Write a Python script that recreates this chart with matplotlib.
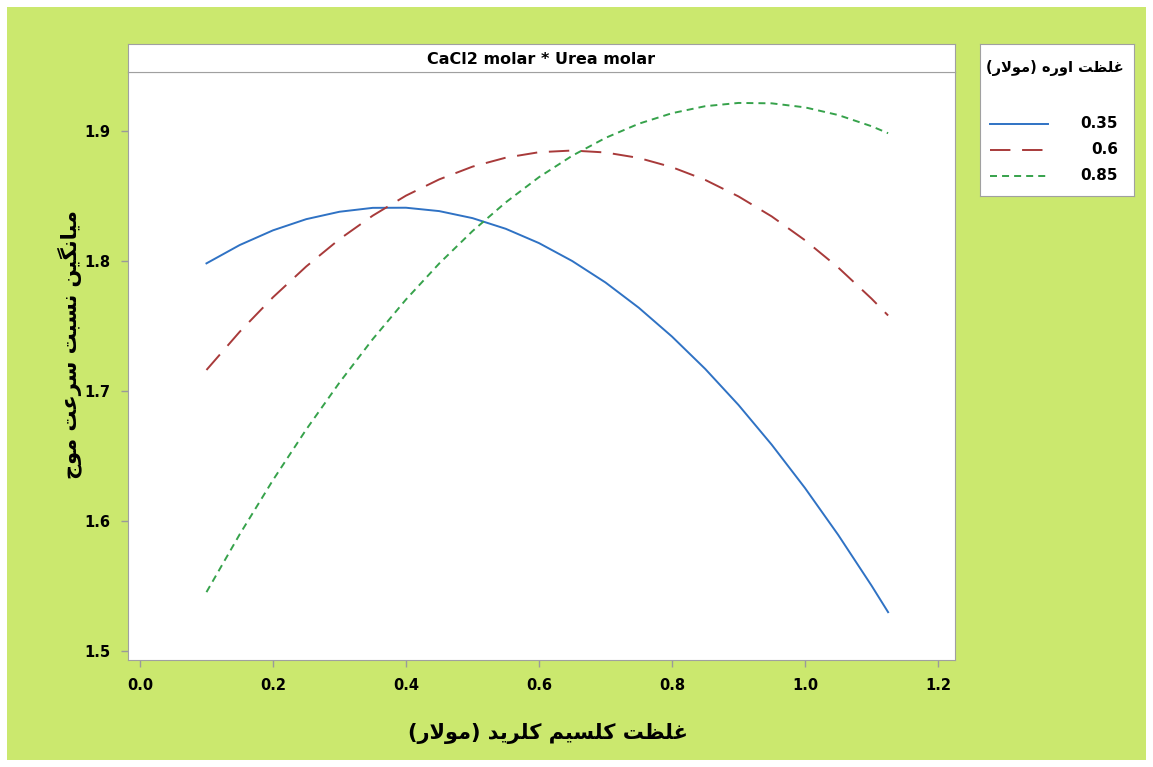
import matplotlib
matplotlib.use("Agg")
import matplotlib.pyplot as plt
from matplotlib.patches import Rectangle

# CaCl2 concentration (molar) on the x axis
cacl2 = [0.10, 0.15, 0.20, 0.25, 0.30, 0.35, 0.40, 0.45, 0.50, 0.55, 0.60,
         0.65, 0.70, 0.75, 0.80, 0.85, 0.90, 0.95, 1.00, 1.05, 1.10, 1.125]

# mean wave-speed ratio for each urea level
urea_035 = [1.7982, 1.8123, 1.8236, 1.8322, 1.8379, 1.8409, 1.8410, 1.8384,
            1.8330, 1.8248, 1.8138, 1.8000, 1.7835, 1.7641, 1.7419, 1.7170,
            1.6893, 1.6587, 1.6254, 1.5893, 1.5504, 1.5299]
urea_060 = [1.7162, 1.7456, 1.7721, 1.7958, 1.8168, 1.8349, 1.8503, 1.8628,
            1.8726, 1.8795, 1.8837, 1.8850, 1.8835, 1.8793, 1.8722, 1.8624,
            1.8497, 1.8343, 1.8160, 1.7950, 1.7711, 1.7581]
urea_085 = [1.5453, 1.5898, 1.6315, 1.6704, 1.7065, 1.7399, 1.7704, 1.7981,
            1.8230, 1.8451, 1.8645, 1.8810, 1.8947, 1.9056, 1.9137, 1.9191,
            1.9216, 1.9213, 1.9182, 1.9123, 1.9037, 1.8983]

urea_labels = ["0.35", "0.6", "0.85"]
x_ticks = [0.0, 0.2, 0.4, 0.6, 0.8, 1.0, 1.2]
y_ticks = [1.5, 1.6, 1.7, 1.8, 1.9]

title = "CaCl2 molar * Urea molar"
x_label = "غلظت کلسیم کلرید (مولار)"
y_label = "میانگین نسبت سرعت موج"
legend_title = "غلظت اوره (مولار)"


# minimal Persian shaping: (isolated, final, initial, medial)
FORMS = {
    "ا": ("\uFE8D", "\uFE8E", None, None),
    "ب": ("\uFE8F", "\uFE90", "\uFE91", "\uFE92"),
    "ت": ("\uFE95", "\uFE96", "\uFE97", "\uFE98"),
    "ج": ("\uFE9D", "\uFE9E", "\uFE9F", "\uFEA0"),
    "د": ("\uFEA9", "\uFEAA", None, None),
    "ر": ("\uFEAD", "\uFEAE", None, None),
    "س": ("\uFEB1", "\uFEB2", "\uFEB3", "\uFEB4"),
    "ظ": ("\uFEC5", "\uFEC6", "\uFEC7", "\uFEC8"),
    "ع": ("\uFEC9", "\uFECA", "\uFECB", "\uFECC"),
    "غ": ("\uFECD", "\uFECE", "\uFECF", "\uFED0"),
    "ل": ("\uFEDD", "\uFEDE", "\uFEDF", "\uFEE0"),
    "م": ("\uFEE1", "\uFEE2", "\uFEE3", "\uFEE4"),
    "ن": ("\uFEE5", "\uFEE6", "\uFEE7", "\uFEE8"),
    "ه": ("\uFEE9", "\uFEEA", "\uFEEB", "\uFEEC"),
    "و": ("\uFEED", "\uFEEE", None, None),
    "ک": ("\uFB8E", "\uFB8F", "\uFB90", "\uFB91"),
    "گ": ("\uFB92", "\uFB93", "\uFB94", "\uFB95"),
    "ی": ("\uFBFC", "\uFBFD", "\uFBFE", "\uFBFF"),
}


def shape_fa(text):
    out = []
    i = 0
    n = len(text)
    while i < n:
        ch = text[i]
        if ch not in FORMS:
            out.append(ch)
            i += 1
            continue
        prev = text[i - 1] if i > 0 else ""
        nxt = text[i + 1] if i + 1 < n else ""
        joins_prev = prev in FORMS and FORMS[prev][2] is not None
        if ch == "ل" and nxt == "ا":
            out.append("\uFEFC" if joins_prev else "\uFEFB")
            i += 2
            continue
        joins_next = FORMS[ch][2] is not None and nxt in FORMS
        iso, fin, ini, med = FORMS[ch]
        if joins_prev and joins_next:
            out.append(med)
        elif joins_prev:
            out.append(fin)
        elif joins_next:
            out.append(ini)
        else:
            out.append(iso)
        i += 1
    vis = "".join(reversed(out))
    return vis.translate(str.maketrans("()", ")("))


W, H = 1153, 767
fig = plt.figure(figsize=(W / 100, H / 100), dpi=100)
fig.patch.set_facecolor("white")
fig.patches.append(Rectangle((7 / W, 7 / H), 1 - 14 / W, 1 - 14 / H,
                             transform=fig.transFigure, facecolor="#cbe86e",
                             edgecolor="none", zorder=-10))

ax = fig.add_axes([128 / W, 1 - 660 / H, 827 / W, 588 / H])
ax.set_facecolor("white")

styles = [
    dict(color="#2f72c4", linestyle="-"),
    dict(color="#a83a3a", dashes=(10.5, 6)),
    dict(color="#36a24b", dashes=(3.6, 2.6)),
]
series = [urea_035, urea_060, urea_085]
for ys, st in zip(series, styles):
    ax.plot(cacl2, ys, lw=1.4, **st)

ax.set_xlim(-0.018, 1.2256)
ax.set_ylim(1.4931, 1.9454)
ax.set_xticks(x_ticks)
ax.set_yticks(y_ticks)
ax.set_xticklabels(["%.1f" % t for t in x_ticks])
ax.set_yticklabels(["%.1f" % t for t in y_ticks])
ax.tick_params(direction="out", length=5, width=1, color="#9a9a9a",
               labelsize=10.5, pad=8)
for lab in ax.get_xticklabels() + ax.get_yticklabels():
    lab.set_fontweight("bold")
for sp in ax.spines.values():
    sp.set_color("#a0a0a0")

# title strip above the panel
strip = fig.add_axes([128 / W, 1 - 72 / H, 827 / W, 28 / H])
strip.set_facecolor("white")
strip.set_xticks([])
strip.set_yticks([])
for sp in strip.spines.values():
    sp.set_color("#a0a0a0")
strip.text(0.5, 0.45, title, ha="center", va="center", fontsize=11.5,
           fontweight="bold", transform=strip.transAxes)

fig.text(548 / W, 1 - 733 / H, shape_fa(x_label), ha="center", va="center",
         fontsize=15, fontweight="bold")
fig.text(70 / W, 1 - 345 / H, shape_fa(y_label), ha="center", va="center",
         fontsize=15, fontweight="bold", rotation=90)

# legend box
lg = fig.add_axes([980 / W, 1 - 196 / H, 154 / W, 152 / H])
lg.set_xlim(0, 154)
lg.set_ylim(152, 0)
lg.set_xticks([])
lg.set_yticks([])
lg.set_facecolor("white")
for sp in lg.spines.values():
    sp.set_color("#a0a0a0")
lg.text(75, 24, shape_fa(legend_title), ha="center", va="center",
        fontsize=10.5, fontweight="bold")
for k, (st, lab) in enumerate(zip(styles, urea_labels)):
    yy = 80 + k * 26
    lg.plot([10, 68], [yy, yy], lw=1.4, **st)
    lg.text(138, yy, lab, ha="right", va="center", fontsize=11,
            fontweight="bold")

fig.savefig("out.png", dpi=100, facecolor=fig.get_facecolor())
